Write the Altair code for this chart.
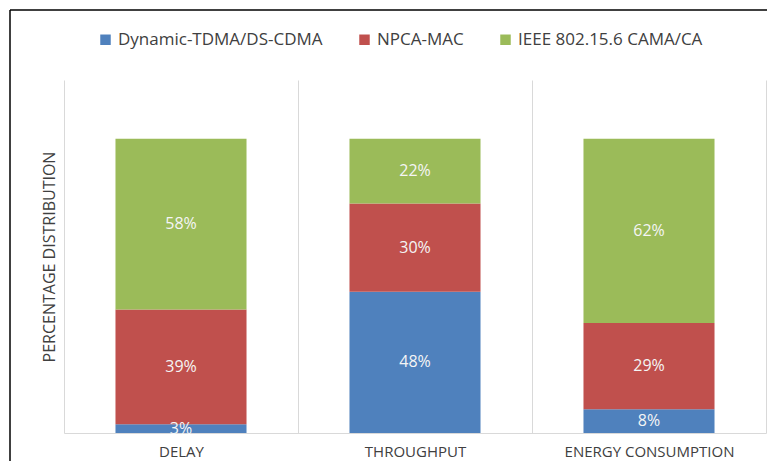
import altair as alt
import pandas as pd

categories = ["DELAY", "THROUGHPUT", "ENERGY CONSUMPTION"]
series = ["Dynamic-TDMA/DS-CDMA", "NPCA-MAC", "IEEE 802.15.6 CAMA/CA"]
dynamic_tdma = [3, 48, 8]
npca_mac = [39, 30, 29]
ieee_cama = [58, 22, 62]
colors = ["#4F81BD", "#C0504D", "#9BBB59"]

FONT = "Open Sans, sans-serif"

rows = []
for i, c in enumerate(categories):
    for j, (s, vals) in enumerate(zip(series, [dynamic_tdma, npca_mac, ieee_cama])):
        rows.append({"cat": c, "series": s, "order": j, "value": vals[i]})
df = pd.DataFrame(rows)

W, H = 702, 353

base = alt.Chart(df).transform_stack(
    stack="value", groupby=["cat"], as_=["y0", "y1"], offset="normalize",
    sort=[alt.SortField("order", order="ascending")]
).transform_calculate(
    ymid="(datum.y0 + datum.y1) / 2", label="datum.value + '%'"
)

x_enc = alt.X(
    "cat:N", sort=categories,
    scale=alt.Scale(paddingInner=0, paddingOuter=0),
    axis=alt.Axis(title=None, labelAngle=0, tickBand="extent", grid=True,
                  gridColor="#D9D9D9", ticks=False, domainColor="#D9D9D9",
                  labelFontSize=15, labelColor="#404040", labelPadding=11,
                  labelFont=FONT, labelLimit=0),
)
y_scale = alt.Scale(domain=[0, 1.2], nice=False, zero=True)

bars = base.mark_bar(width=alt.RelativeBandSize(0.56)).encode(
    x=x_enc,
    y=alt.Y("y0:Q", scale=y_scale,
            axis=alt.Axis(title="PERCENTAGE DISTRIBUTION", labels=False, ticks=False,
                          grid=False, domain=False, titleFontSize=16,
                          titleColor="#404040", titleFontWeight="normal",
                          titleFont=FONT, titlePadding=7)),
    y2="y1:Q",
    color=alt.Color("series:N", sort=series,
                    scale=alt.Scale(domain=series, range=colors),
                    legend=alt.Legend(title=None, orient="none", direction="horizontal",
                                      legendX=33, legendY=-49, symbolType="square",
                                      symbolSize=110, symbolStrokeWidth=0,
                                      labelFontSize=17, labelColor="#404040",
                                      labelFont=FONT, labelLimit=0, columnPadding=33)),
)

labels = base.mark_text(color="#F5F5F5", fontSize=16, font=FONT, baseline="middle").encode(
    x=alt.X("cat:N", sort=categories),
    y=alt.Y("ymid:Q", scale=y_scale),
    text="label:N",
)

frame_df = pd.DataFrame({"f": [0]})
frame_left = alt.Chart(frame_df).mark_rule(color="black", strokeWidth=1.5).encode(
    x=alt.value(-54), y=alt.value(-70), y2=alt.value(H + 60))
frame_top = alt.Chart(frame_df).mark_rule(color="black", strokeWidth=1.5).encode(
    x=alt.value(-54), x2=alt.value(W + 20), y=alt.value(-70))

chart = alt.layer(bars, labels, frame_left, frame_top).properties(
    width=W, height=H,
    autosize=alt.AutoSizeParams(type="none"),
    padding={"left": 56, "top": 72, "right": 1, "bottom": 28},
).configure_view(stroke=None)

chart.save("out.html", embed_options={"renderer": "svg", "actions": False})
